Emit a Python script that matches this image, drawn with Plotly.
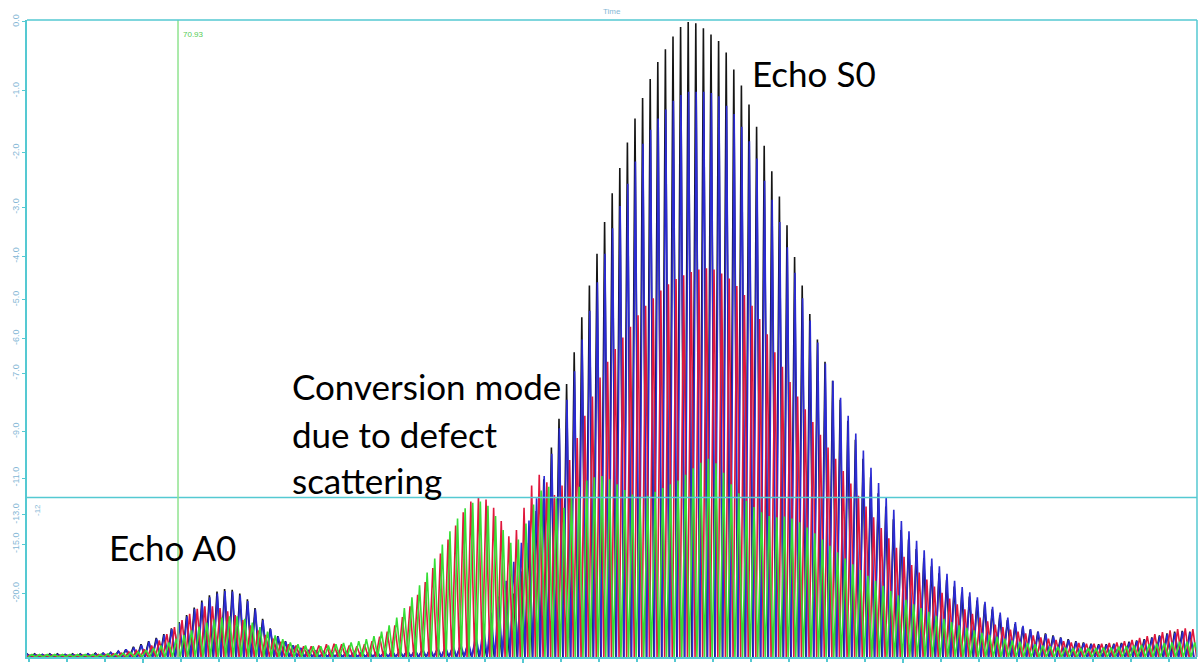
import plotly.graph_objects as go
import numpy as np

# ---------------- data ----------------
# time axis in microseconds; one carrier cycle per microsecond
t_start = 51.06          # time of the first cycle
cursor_time = 70.93      # vertical cursor
threshold_db = -12       # horizontal cursor

ytick_db = [0.0, -1.0, -2.0, -3.0, -4.0, -5.0, -6.0, -7.0, -9.0, -11.0, -13.0, -15.0, -20.0]
xtick_major = [66.3, 116.3, 166.3]

# peak amplitude of each cycle (linear amplitude, 1.0 = 0 dB)
black_peaks = [
    0.005, 0.005, 0.004, 0.005, 0.005, 0.004, 0.005, 0.005, 0.005, 0.006,
    0.006, 0.007, 0.009, 0.012, 0.016, 0.020, 0.025, 0.030, 0.036, 0.045,
    0.055, 0.066, 0.078, 0.089, 0.097, 0.103, 0.107, 0.106, 0.100, 0.091,
    0.077, 0.060, 0.045, 0.033, 0.025, 0.018, 0.014, 0.011, 0.009, 0.008,
    0.008, 0.008, 0.007, 0.007, 0.007, 0.007, 0.008, 0.008, 0.009, 0.009,
    0.010, 0.010, 0.011, 0.012, 0.013, 0.014, 0.015, 0.017, 0.020, 0.024,
    0.030, 0.040, 0.055, 0.075, 0.100, 0.135, 0.180, 0.230, 0.280, 0.330,
    0.375, 0.430, 0.480, 0.535, 0.585, 0.635, 0.685, 0.730, 0.770, 0.810,
    0.848, 0.880, 0.910, 0.937, 0.957, 0.977, 0.992, 1.000, 0.998, 0.990,
    0.980, 0.970, 0.952, 0.925, 0.900, 0.870, 0.835, 0.805, 0.765, 0.725,
    0.680, 0.630, 0.585, 0.540, 0.500, 0.465, 0.435, 0.405, 0.372, 0.342,
    0.312, 0.283, 0.258, 0.237, 0.217, 0.200, 0.185, 0.170, 0.156, 0.143,
    0.132, 0.121, 0.111, 0.102, 0.095, 0.089, 0.083, 0.075, 0.066, 0.058,
    0.052, 0.047, 0.043, 0.040, 0.037, 0.034, 0.031, 0.028, 0.025, 0.023,
    0.021, 0.020, 0.020, 0.021, 0.022, 0.024, 0.026, 0.028, 0.031, 0.034,
    0.037, 0.040, 0.041, 0.040,
]
blue_peaks = [
    0.004, 0.004, 0.004, 0.004, 0.004, 0.004, 0.004, 0.004, 0.005, 0.005,
    0.006, 0.007, 0.009, 0.012, 0.015, 0.019, 0.024, 0.029, 0.035, 0.044,
    0.053, 0.064, 0.076, 0.086, 0.094, 0.100, 0.104, 0.103, 0.097, 0.088,
    0.075, 0.058, 0.044, 0.032, 0.024, 0.018, 0.014, 0.011, 0.009, 0.008,
    0.008, 0.008, 0.008, 0.008, 0.008, 0.008, 0.009, 0.009, 0.010, 0.010,
    0.011, 0.012, 0.013, 0.014, 0.015, 0.016, 0.018, 0.021, 0.025, 0.035,
    0.050, 0.070, 0.095, 0.120, 0.150, 0.180, 0.215, 0.250, 0.285, 0.320,
    0.360, 0.405, 0.450, 0.500, 0.545, 0.590, 0.635, 0.675, 0.710, 0.745,
    0.780, 0.808, 0.830, 0.848, 0.862, 0.876, 0.885, 0.890, 0.890, 0.890,
    0.888, 0.883, 0.868, 0.855, 0.835, 0.812, 0.785, 0.750, 0.720, 0.685,
    0.645, 0.605, 0.565, 0.530, 0.495, 0.462, 0.435, 0.408, 0.380, 0.352,
    0.325, 0.298, 0.274, 0.252, 0.232, 0.214, 0.198, 0.183, 0.168, 0.155,
    0.143, 0.131, 0.120, 0.110, 0.102, 0.094, 0.087, 0.079, 0.070, 0.062,
    0.055, 0.049, 0.044, 0.040, 0.036, 0.033, 0.030, 0.027, 0.024, 0.022,
    0.020, 0.019, 0.019, 0.020, 0.021, 0.023, 0.025, 0.027, 0.030, 0.033,
    0.036, 0.038, 0.040, 0.039,
]
red_peaks = [
    0.003, 0.003, 0.003, 0.003, 0.003, 0.003, 0.003, 0.003, 0.003, 0.004,
    0.004, 0.005, 0.006, 0.008, 0.010, 0.012, 0.018, 0.026, 0.036, 0.047,
    0.058, 0.068, 0.076, 0.080, 0.080, 0.077, 0.072, 0.066, 0.058, 0.050,
    0.042, 0.035, 0.029, 0.024, 0.020, 0.018, 0.017, 0.017, 0.018, 0.020,
    0.021, 0.020, 0.018, 0.017, 0.020, 0.025, 0.032, 0.040, 0.050, 0.063,
    0.080, 0.098, 0.118, 0.140, 0.163, 0.185, 0.207, 0.228, 0.245, 0.252,
    0.248, 0.235, 0.214, 0.190, 0.200, 0.235, 0.270, 0.287, 0.275, 0.255,
    0.270, 0.310, 0.345, 0.380, 0.410, 0.440, 0.465, 0.485, 0.503, 0.520,
    0.538, 0.553, 0.565, 0.577, 0.587, 0.595, 0.601, 0.606, 0.610, 0.612,
    0.610, 0.604, 0.596, 0.584, 0.570, 0.553, 0.532, 0.508, 0.480, 0.457,
    0.433, 0.410, 0.390, 0.370, 0.350, 0.330, 0.312, 0.293, 0.273, 0.254,
    0.237, 0.220, 0.203, 0.187, 0.172, 0.158, 0.145, 0.133, 0.122, 0.111,
    0.101, 0.092, 0.083, 0.075, 0.068, 0.062, 0.056, 0.051, 0.047, 0.043,
    0.040, 0.037, 0.034, 0.031, 0.029, 0.027, 0.025, 0.023, 0.022, 0.021,
    0.021, 0.021, 0.022, 0.023, 0.025, 0.027, 0.030, 0.033, 0.036, 0.039,
    0.042, 0.044, 0.045, 0.044,
]
green_peaks = [
    0.004, 0.004, 0.004, 0.004, 0.004, 0.004, 0.004, 0.004, 0.004, 0.004,
    0.005, 0.005, 0.006, 0.007, 0.008, 0.011, 0.014, 0.018, 0.023, 0.029,
    0.035, 0.042, 0.048, 0.054, 0.059, 0.062, 0.064, 0.064, 0.060, 0.054,
    0.047, 0.040, 0.034, 0.028, 0.023, 0.020, 0.018, 0.017, 0.017, 0.018,
    0.020, 0.022, 0.023, 0.025, 0.028, 0.033, 0.040, 0.050, 0.062, 0.077,
    0.094, 0.113, 0.133, 0.155, 0.177, 0.198, 0.218, 0.234, 0.243, 0.245,
    0.238, 0.222, 0.200, 0.180, 0.185, 0.210, 0.240, 0.262, 0.268, 0.250,
    0.235, 0.252, 0.268, 0.278, 0.283, 0.285, 0.280, 0.272, 0.263, 0.256,
    0.252, 0.254, 0.260, 0.266, 0.272, 0.278, 0.287, 0.297, 0.306, 0.312,
    0.305, 0.290, 0.272, 0.258, 0.246, 0.236, 0.228, 0.222, 0.220, 0.221,
    0.218, 0.212, 0.204, 0.195, 0.185, 0.175, 0.165, 0.155, 0.146, 0.137,
    0.128, 0.120, 0.112, 0.104, 0.097, 0.090, 0.083, 0.077, 0.071, 0.065,
    0.060, 0.055, 0.050, 0.046, 0.042, 0.038, 0.035, 0.032, 0.029, 0.026,
    0.024, 0.022, 0.020, 0.018, 0.017, 0.016, 0.015, 0.014, 0.014, 0.014,
    0.014, 0.015, 0.015, 0.016, 0.017, 0.018, 0.019, 0.020, 0.021, 0.022,
    0.023, 0.024, 0.024, 0.023,
]
trough_value = 0.0

series = [
    ("black", black_peaks, 0.00, "#151515"),
    ("blue", blue_peaks, 0.05, "#2b2bd2"),
    ("red", red_peaks, 0.40, "#e0173c"),
    ("green", green_peaks, 0.65, "#36de36"),
]

# ---------------- figure ----------------
W, H = 1203, 663
ML, MR, MT, MB = 27, 6, 20, 6
cyan = "#55c9d2"
label_col = "#86b8d6"

fig = go.Figure()
for name, peaks, phase, col in series:
    xs, ys = [], []
    for k, p in enumerate(peaks):
        t = t_start + phase + k
        xs += [t - 0.5, t]
        ys += [trough_value, p]
    xs.append(t_start + phase + len(peaks) - 0.5)
    ys.append(trough_value)
    fig.add_trace(go.Scatter(x=xs, y=ys, mode="lines", name=name,
                             line=dict(color=col, width=1.6), hoverinfo="skip"))

x_end = t_start + (W - ML - MR) / 7.6
ytick_vals = [10 ** (d / 20) for d in ytick_db]
threshold_amp = 10 ** (threshold_db / 20)

fig.update_layout(
    width=W, height=H,
    margin=dict(l=ML, r=MR, t=MT, b=MB, pad=0),
    paper_bgcolor="white", plot_bgcolor="white",
    showlegend=False,
    xaxis=dict(range=[t_start, x_end], showgrid=False, zeroline=False,
               showline=True, linecolor=cyan, linewidth=1.5,
               ticks="outside", ticklen=6, tickcolor=cyan, tickwidth=1.5,
               tickvals=xtick_major, showticklabels=False,
               minor=dict(dtick=5, tick0=66.3, ticks="outside", ticklen=3, tickcolor=cyan),
               automargin=False),
    yaxis=dict(range=[0, 1.003], showgrid=False, zeroline=False,
               showline=True, linecolor=cyan, linewidth=1.5,
               ticks="outside", ticklen=3, tickcolor=cyan,
               tickvals=ytick_vals, ticktext=[f"{d:.1f}" for d in ytick_db],
               tickangle=-90,
               tickfont=dict(size=9, color=label_col, family="Arial"),
               automargin=False),
)

shapes = [
    dict(type="line", xref="paper", yref="y", x0=0, x1=1, y0=threshold_amp, y1=threshold_amp,
         line=dict(color=cyan, width=1.5)),
    dict(type="line", xref="x", yref="paper", x0=cursor_time, x1=cursor_time, y0=0, y1=1,
         line=dict(color="#8fe38f", width=1.5)),
    dict(type="line", xref="paper", yref="paper", x0=0, x1=1, y0=1, y1=1,
         line=dict(color=cyan, width=1.5)),
    dict(type="line", xref="paper", yref="paper", x0=1, x1=1, y0=0, y1=1,
         line=dict(color=cyan, width=1.5)),
]
fig.update_layout(shapes=shapes)

pw, ph = W - ML - MR, H - MT - MB
def px(xp):
    return (xp - ML) / pw
def py(yp):
    return (H - MB - yp) / ph

big = dict(family="Lato, 'Noto Sans', sans-serif", size=35, color="black")
annos = [
    dict(text="Echo S0", x=px(750), y=py(73)),
    dict(text="Conversion mode", x=px(290), y=py(386)),
    dict(text="due to defect", x=px(290), y=py(434)),
    dict(text="scattering", x=px(290), y=py(480)),
    dict(text="Echo A0", x=px(107), y=py(547)),
]
for a in annos:
    fig.add_annotation(text=a["text"], x=a["x"], y=a["y"], xref="paper", yref="paper",
                       xanchor="left", yanchor="middle", showarrow=False, font=big)

small = dict(family="Arial", size=8, color=label_col)
fig.add_annotation(text="Time", x=px(612), y=py(12), xref="paper", yref="paper",
                   xanchor="center", yanchor="middle", showarrow=False, font=small)
fig.add_annotation(text="-12", x=px(38), y=py(510), xref="paper", yref="paper",
                   xanchor="center", yanchor="middle", showarrow=False, textangle=-90,
                   font=small)
fig.add_annotation(text=f"{cursor_time:.2f}", x=cursor_time, y=py(34), xref="x", yref="paper",
                   xanchor="left", yanchor="middle", xshift=3, showarrow=False,
                   font=dict(family="Arial", size=8, color="#55cc55"))

fig.write_html("out.html", config={"displayModeBar": False})
